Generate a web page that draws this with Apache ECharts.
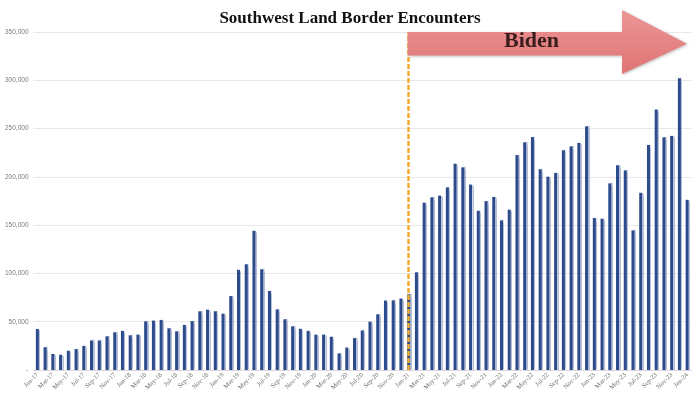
<!DOCTYPE html>
<html>
<head>
<meta charset="utf-8">
<script src="https://cdn.jsdelivr.net/npm/echarts@6/dist/echarts.min.js"></script>
<style>
html,body{margin:0;padding:0;background:#fff;}
#chart{width:700px;height:394px;}
</style>
</head>
<body>
<div id="chart"></div>
<script>
var months = [
"Jan-17","Feb-17","Mar-17","Apr-17","May-17","Jun-17","Jul-17","Aug-17","Sep-17","Oct-17","Nov-17","Dec-17",
"Jan-18","Feb-18","Mar-18","Apr-18","May-18","Jun-18","Jul-18","Aug-18","Sep-18","Oct-18","Nov-18","Dec-18",
"Jan-19","Feb-19","Mar-19","Apr-19","May-19","Jun-19","Jul-19","Aug-19","Sep-19","Oct-19","Nov-19","Dec-19",
"Jan-20","Feb-20","Mar-20","Apr-20","May-20","Jun-20","Jul-20","Aug-20","Sep-20","Oct-20","Nov-20","Dec-20",
"Jan-21","Feb-21","Mar-21","Apr-21","May-21","Jun-21","Jul-21","Aug-21","Sep-21","Oct-21","Nov-21","Dec-21",
"Jan-22","Feb-22","Mar-22","Apr-22","May-22","Jun-22","Jul-22","Aug-22","Sep-22","Oct-22","Nov-22","Dec-22",
"Jan-23","Feb-23","Mar-23","Apr-23","May-23","Jun-23","Jul-23","Aug-23","Sep-23","Oct-23","Nov-23","Dec-23",
"Jan-24"
];
var encounters = [
42463,23555,16600,15766,19940,21659,25010,30567,30549,34855,39051,40519,
35905,36687,50347,51168,51862,43180,40049,46719,50568,60745,62469,60794,
58317,76545,103731,109415,144116,104311,81777,62707,52546,45250,42649,40565,
36585,36687,34460,17106,23237,33049,40929,50014,57674,71929,72113,73994,
78414,101099,173277,178795,180597,189034,213593,209840,192001,164837,174845,179253,
154874,166010,222574,235785,241136,207834,200162,204087,227547,231529,235173,252315,
157358,156630,193249,211992,206690,144556,183503,232972,269735,240936,242399,301983,
176205
];
var yTicks = [0,50000,100000,150000,200000,250000,300000,350000];
var startLabel = "Jan-21";
var chartTitle = "Southwest Land Border Encounters";
var arrowText = "Biden";

var chart = echarts.init(document.getElementById('chart'), null, {renderer:'canvas'});
var option = {
  animation:false,
  backgroundColor:'#ffffff',
  title:{
    text:chartTitle, left:'center', top:5,
    textStyle:{fontFamily:'Liberation Serif', fontWeight:'bold', fontSize:17, color:'#111'}
  },
  grid:{left:33.5, right:9, top:32, bottom:24},
  xAxis:{
    type:'category', data:months,
    axisLine:{show:true, lineStyle:{color:'#d9d9d9', width:1}},
    axisTick:{show:false},
    axisLabel:{interval:1, rotate:45, fontSize:6.5, color:'#6b6b6b', fontFamily:'Liberation Serif', margin:4}
  },
  yAxis:{
    type:'value', min:yTicks[0], max:yTicks[yTicks.length-1], interval:50000,
    axisLine:{show:false}, axisTick:{show:false},
    splitLine:{lineStyle:{color:'#e8e8e8', width:1}},
    axisLabel:{fontSize:6.5, color:'#7a7a7a', fontFamily:'Liberation Sans', margin:5,
      formatter:function(v){ return v===0 ? '-' : v.toLocaleString('en-US'); }}
  },
  series:[{
    type:'bar', data:encounters, barWidth:3,
    itemStyle:{color:'#2c4a8c', shadowColor:'rgba(120,140,180,0.55)', shadowOffsetX:1.5, shadowBlur:1},
    markLine:{
      silent:true, symbol:['none','none'], label:{show:false},
      lineStyle:{color:'#f2ad2e', type:[5,2], width:2.5},
      data:[{xAxis:startLabel}]
    },
    z:2
  }]
};
chart.setOption(option);

var x0 = chart.convertToPixel({xAxisIndex:0}, startLabel) - 1;
var yTop = chart.convertToPixel({yAxisIndex:0}, 350000);
var headX = 622, tipX = 687;
var shaftTop = yTop, shaftBot = yTop + 23.5;
var headTop = 10, headBot = 74, tipY = (shaftTop + shaftBot)/2;
chart.setOption({
  graphic:[
    {
      type:'polygon', z:100,
      shape:{points:[[x0,shaftTop],[headX,shaftTop],[headX,headTop],[tipX,tipY],[headX,headBot],[headX,shaftBot],[x0,shaftBot]]},
      style:{
        fill:{type:'linear',x:0,y:0,x2:0,y2:1,colorStops:[{offset:0,color:'#ec9696'},{offset:1,color:'#e07474'}]},
        shadowColor:'rgba(0,0,0,0.25)', shadowBlur:3, shadowOffsetX:1, shadowOffsetY:1
      }
    },
    {
      type:'text', z:101, left:533 - 29, top:tipY - 13,
      style:{text:arrowText, font:'bold 22px "Liberation Serif"', fill:'#3a1e1e',
        shadowColor:'rgba(0,0,0,0.3)', shadowBlur:2}
    }
  ]
});
</script>
</body>
</html>
